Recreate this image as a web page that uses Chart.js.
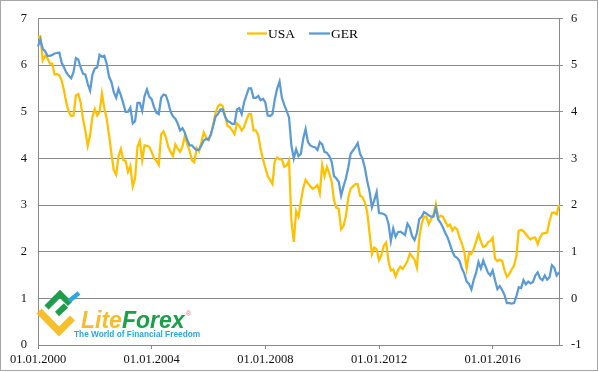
<!DOCTYPE html>
<html>
<head>
<meta charset="utf-8">
<script src="https://cdn.jsdelivr.net/npm/chart.js@4.4.1/dist/chart.umd.min.js"></script>
<style>
  body { margin: 0; background: #fff; }
  canvas { display: block; }
</style>
</head>
<body>
<canvas id="chart" width="599" height="372"></canvas>
<script>
// monthly points, Jan 2000 .. May 2018
const months = [];
for (let i = 0; i < 221; i++) {
    const m = i % 12 + 1;
    const y = 2000 + Math.floor(i / 12);
    months.push('01.' + (m < 10 ? '0' + m : m) + '.' + y);
}

const tickLabels = ['01.01.2000', '01.01.2004', '01.01.2008', '01.01.2012', '01.01.2016'];

// 10y yield, USA (left axis)
const usaYield = [
    6.6, 6.62, 6.1, 6.2, 6.15, 6.03, 6.03, 5.8, 5.81, 5.78,
    5.67, 5.45, 5.18, 5.0, 4.91, 4.92, 5.35, 5.38, 5.2, 4.85,
    4.6, 4.27, 4.5, 4.9, 5.06, 4.92, 5.0, 5.39, 5.08, 4.85,
    4.5, 4.1, 3.75, 3.65, 4.05, 4.2, 3.96, 3.95, 3.71, 3.84,
    3.4, 3.57, 4.25, 4.38, 3.96, 4.28, 4.27, 4.25, 4.14, 4.0,
    3.95, 3.86, 4.52, 4.58, 4.45, 4.25, 4.14, 4.05, 4.3, 4.21,
    4.14, 4.25, 4.49, 4.3, 4.17, 3.96, 3.92, 4.22, 4.15, 4.35,
    4.56, 4.45, 4.4, 4.5, 4.74, 4.98, 5.12, 5.16, 5.12, 4.91,
    4.7, 4.67, 4.6, 4.52, 4.75, 4.7, 4.6, 4.67, 4.82, 4.95,
    4.95, 4.6, 4.6, 4.5, 4.2, 3.98, 3.8, 3.62, 3.54, 3.45,
    3.95, 4.02, 3.98, 3.98, 3.82, 3.85, 3.96, 2.66, 2.21, 2.87,
    2.75, 3.08, 3.36, 3.54, 3.47, 3.4, 3.35, 3.38, 3.43, 3.25,
    3.86, 3.62, 3.82, 3.68, 3.5, 3.1, 2.94, 2.92, 2.48, 2.55,
    2.76, 3.15, 3.35, 3.4, 3.45, 3.45, 3.2, 3.17, 3.06, 2.85,
    2.4, 1.95, 2.09, 2.05, 1.82, 1.92, 2.13, 2.2, 1.8, 1.6,
    1.62, 1.47, 1.6, 1.68, 1.63, 1.71, 1.8, 1.96, 1.9, 1.83,
    1.66, 2.3, 2.6, 2.75, 2.75, 2.59, 2.7, 2.8, 3.02, 2.72,
    2.77, 2.75, 2.65, 2.55, 2.58, 2.45, 2.52, 2.48, 2.3, 2.18,
    2.0, 1.64, 1.97, 1.95, 2.06, 2.22, 2.38, 2.22, 2.1, 2.12,
    2.2, 2.23, 2.3, 1.85, 1.8, 1.83, 1.8, 1.6, 1.46, 1.52,
    1.62, 1.7, 1.9, 2.45, 2.47, 2.44, 2.38, 2.31, 2.26, 2.3,
    2.3, 2.16, 2.3, 2.39, 2.4, 2.41, 2.66, 2.83, 2.84, 2.8, 3.0
];

// 10y yield, Germany (right axis)
const gerYield = [
    5.4, 5.55, 5.35, 5.3, 5.2, 5.2, 5.22, 5.25, 5.26, 5.27,
    5.05, 4.95, 4.84, 4.77, 4.72, 4.85, 5.15, 5.12, 4.95, 4.82,
    4.8, 4.6, 4.45, 4.8, 4.93, 4.95, 5.22, 5.18, 5.2, 5.03,
    4.75, 4.64, 4.42, 4.3, 4.49, 4.35, 4.18, 4.0, 4.0, 4.09,
    3.75, 3.8, 4.19, 4.19, 4.02, 4.34, 4.48, 4.32, 4.27, 4.1,
    3.98, 3.95, 4.3, 4.37, 4.35, 4.2, 4.0, 3.9, 3.85, 3.75,
    3.6, 3.65, 3.55, 3.4, 3.28, 3.28, 3.22, 3.18, 3.19, 3.28,
    3.38, 3.42, 3.4, 3.52, 3.7, 3.9, 3.95, 4.05, 4.05, 3.9,
    3.8, 3.78, 3.74, 3.74, 4.05, 4.08, 3.95, 4.2, 4.35, 4.5,
    4.5, 4.3, 4.3, 4.34, 4.25, 4.28, 4.2, 3.92, 3.91, 3.95,
    4.27, 4.5, 4.65, 4.3, 4.15, 4.02, 3.88, 3.28, 3.0, 3.2,
    3.05, 3.1, 3.42, 3.63, 3.35, 3.28, 3.25, 3.24, 3.18, 3.35,
    3.3, 3.14, 3.12, 3.05, 2.93, 2.62, 2.57, 2.5, 2.2, 2.4,
    2.57, 2.8, 3.1, 3.17, 3.24, 3.33, 3.1, 3.0, 2.8, 2.52,
    2.29, 1.95, 2.1, 2.28, 1.83, 1.82, 1.81, 1.77, 1.6, 1.23,
    1.5, 1.32, 1.42, 1.43, 1.4, 1.36, 1.6, 1.52, 1.33, 1.25,
    1.4, 1.7, 1.75, 1.85, 1.82, 1.78, 1.75, 1.75, 1.94, 1.69,
    1.62, 1.52, 1.4, 1.3, 1.15, 1.0, 0.9, 0.87, 0.8, 0.64,
    0.53, 0.36, 0.31, 0.19, 0.4, 0.55, 0.78, 0.64, 0.81, 0.68,
    0.55, 0.49, 0.6, 0.39, 0.2, 0.26, 0.18, 0.07, -0.1, -0.1,
    -0.11, -0.1, 0.04, 0.24, 0.22, 0.39, 0.3, 0.36, 0.32, 0.35,
    0.49, 0.56, 0.43, 0.39, 0.49, 0.4, 0.45, 0.71, 0.66, 0.49, 0.56
];

const USA_COLOR = '#FFC000';
const GER_COLOR = '#5B9BD5';
const AXIS_GRAY = '#8a8a8a';
const tickFont = { family: '"Liberation Serif", "DejaVu Serif", serif', size: 12.5 };

// frame, legend and the watermark logo
const decorations = {
    id: 'decorations',
    beforeDraw(chart) {
        const c = chart.ctx;
        c.save();
        c.fillStyle = '#fff';
        c.fillRect(0, 0, chart.width, chart.height);
        c.restore();
    },
    afterDraw(chart) {
        const c = chart.ctx;
        c.save();

        // outer frame
        c.strokeStyle = '#a6a6a6';
        c.lineWidth = 1;
        c.strokeRect(0.5, 0.5, 597, 370);

        // legend
        c.font = '13.5px "Liberation Serif", serif';
        c.textBaseline = 'middle';
        c.lineWidth = 2.25;
        c.strokeStyle = USA_COLOR;
        c.beginPath(); c.moveTo(247, 33.5); c.lineTo(267, 33.5); c.stroke();
        c.fillStyle = '#000';
        c.fillText('USA', 268, 34);
        c.strokeStyle = GER_COLOR;
        c.beginPath(); c.moveTo(309, 33.5); c.lineTo(330, 33.5); c.stroke();
        c.fillText('GER', 331, 34);

        // logo mark
        c.lineCap = 'butt';
        c.lineJoin = 'miter';
        c.lineWidth = 7;
        c.strokeStyle = '#F5C02C';
        c.beginPath(); c.moveTo(39, 311); c.lineTo(59, 331.5); c.lineTo(72.5, 318); c.stroke();
        c.lineWidth = 6;
        c.strokeStyle = '#1E9E48';
        c.beginPath(); c.moveTo(46.5, 307.5); c.lineTo(60, 294); c.lineTo(70, 304); c.stroke();
        c.beginPath(); c.moveTo(57, 314); c.lineTo(66, 305.5); c.stroke();
        c.strokeStyle = '#2DA8E0';
        c.lineWidth = 4.5;
        c.beginPath(); c.moveTo(69, 301); c.lineTo(79, 293); c.stroke();

        // logo text
        c.textBaseline = 'alphabetic';
        c.font = 'italic bold 23px "Liberation Sans", Arial, sans-serif';
        c.fillStyle = '#F5BD2B';
        c.fillText('Lite', 81, 328);
        const w = c.measureText('Lite').width;
        c.fillStyle = '#18A04A';
        c.fillText('Forex', 81 + w, 328);
        c.font = '7px "Liberation Sans", sans-serif';
        c.fillStyle = '#E0707A';
        c.fillText('®', 186, 316);
        c.font = 'bold 8.3px "Liberation Sans", Arial, sans-serif';
        c.fillStyle = '#2BA6DE';
        c.fillText('The World of Financial Freedom', 74, 337);

        c.restore();
    }
};

const ctx = document.getElementById('chart').getContext('2d');

const chart = new Chart(ctx, {
    type: 'line',
    data: {
        labels: months,
        datasets: [
            {
                label: 'USA',
                data: usaYield,
                yAxisID: 'yLeft',
                borderColor: USA_COLOR,
                borderWidth: 2.25,
                pointRadius: 0,
                tension: 0,
                order: 1
            },
            {
                label: 'GER',
                data: gerYield,
                yAxisID: 'yRight',
                borderColor: GER_COLOR,
                borderWidth: 2.25,
                pointRadius: 0,
                tension: 0,
                order: 0
            }
        ]
    },
    options: {
        responsive: false,
        animation: false,
        layout: { padding: { top: 14, left: 0, right: 0, bottom: 0 } },
        plugins: {
            legend: { display: false },
            tooltip: { enabled: false }
        },
        scales: {
            x: {
                type: 'category',
                offset: false,
                grid: { drawOnChartArea: false, drawTicks: true, tickLength: 4, color: AXIS_GRAY },
                border: { display: true, color: AXIS_GRAY },
                ticks: {
                    autoSkip: false,
                    maxRotation: 0,
                    padding: 3,
                    color: '#111',
                    font: tickFont,
                    callback: (v, i) => (tickLabels.includes(months[i]) ? months[i] : null)
                },
                afterFit: (s) => { s.height = 27; }
            },
            yLeft: {
                position: 'left',
                min: 0,
                max: 7,
                ticks: { stepSize: 1, padding: 11, color: '#111', font: tickFont },
                grid: { color: AXIS_GRAY, drawTicks: false },
                border: { display: true, color: AXIS_GRAY },
                afterFit: (s) => { s.width = 38; }
            },
            yRight: {
                position: 'right',
                min: -1,
                max: 6,
                ticks: { stepSize: 1, padding: 8, color: '#111', font: tickFont },
                grid: { drawOnChartArea: false, tickLength: 4, color: AXIS_GRAY },
                border: { display: true, color: AXIS_GRAY },
                afterFit: (s) => { s.width = 40; }
            }
        }
    },
    plugins: [decorations]
});
</script>
</body>
</html>
